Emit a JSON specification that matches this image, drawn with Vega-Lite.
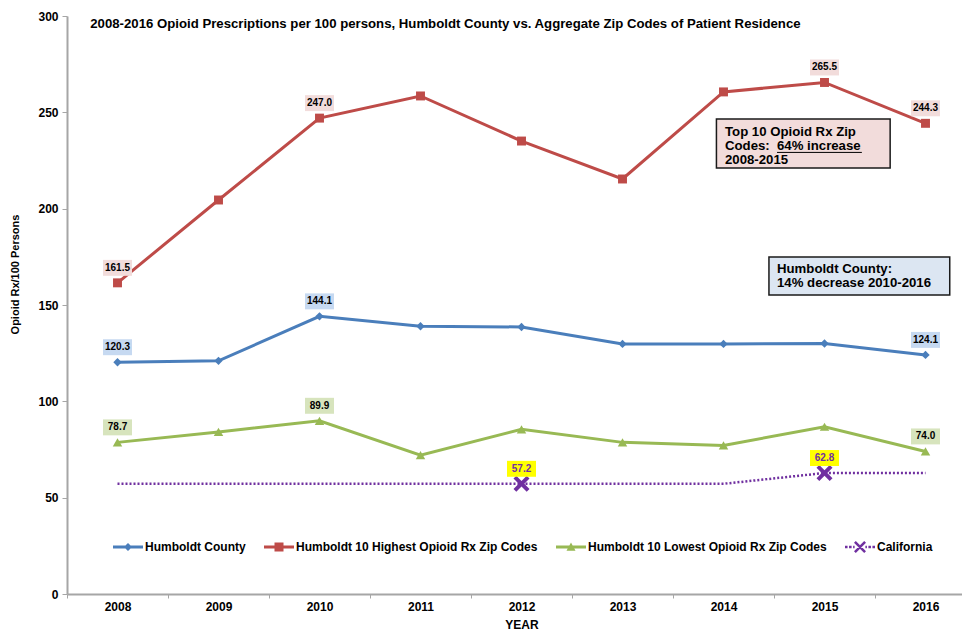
{
  "$schema": "https://vega.github.io/schema/vega-lite/v6.json",
  "width": 895,
  "height": 578,
  "autosize": {"type": "none"},
  "padding": {"left": 67, "top": 16, "right": 0, "bottom": 37},
  "background": "white",
  "config": {
    "view": {"stroke": null},
    "font": "Liberation Sans, Arial, sans-serif",
    "axis": {
      "labelFont": "Liberation Sans, Arial, sans-serif",
      "labelFontSize": 12,
      "labelFontWeight": "bold",
      "labelColor": "#000000",
      "titleFont": "Liberation Sans, Arial, sans-serif",
      "titleFontSize": 12,
      "titleFontWeight": "bold",
      "titleColor": "#000000",
      "domainColor": "#a6a6a6",
      "domainWidth": 2,
      "tickColor": "#a6a6a6",
      "tickWidth": 1,
      "grid": false
    }
  },
  "datasets": {
    "rx": [
      {"year": 2008, "series": "Humboldt County", "value": 120.3, "labeled": true},
      {"year": 2009, "series": "Humboldt County", "value": 121.0, "labeled": false},
      {"year": 2010, "series": "Humboldt County", "value": 144.1, "labeled": true},
      {"year": 2011, "series": "Humboldt County", "value": 139.0, "labeled": false},
      {"year": 2012, "series": "Humboldt County", "value": 138.6, "labeled": false},
      {"year": 2013, "series": "Humboldt County", "value": 129.8, "labeled": false},
      {"year": 2014, "series": "Humboldt County", "value": 129.8, "labeled": false},
      {"year": 2015, "series": "Humboldt County", "value": 130.0, "labeled": false},
      {"year": 2016, "series": "Humboldt County", "value": 124.1, "labeled": true},
      {"year": 2008, "series": "Humboldt 10 Highest Opioid Rx Zip Codes", "value": 161.5, "labeled": true},
      {"year": 2009, "series": "Humboldt 10 Highest Opioid Rx Zip Codes", "value": 204.5, "labeled": false},
      {"year": 2010, "series": "Humboldt 10 Highest Opioid Rx Zip Codes", "value": 247.0, "labeled": true},
      {"year": 2011, "series": "Humboldt 10 Highest Opioid Rx Zip Codes", "value": 258.5, "labeled": false},
      {"year": 2012, "series": "Humboldt 10 Highest Opioid Rx Zip Codes", "value": 235.1, "labeled": false},
      {"year": 2013, "series": "Humboldt 10 Highest Opioid Rx Zip Codes", "value": 215.4, "labeled": false},
      {"year": 2014, "series": "Humboldt 10 Highest Opioid Rx Zip Codes", "value": 260.6, "labeled": false},
      {"year": 2015, "series": "Humboldt 10 Highest Opioid Rx Zip Codes", "value": 265.5, "labeled": true},
      {"year": 2016, "series": "Humboldt 10 Highest Opioid Rx Zip Codes", "value": 244.3, "labeled": true},
      {"year": 2008, "series": "Humboldt 10 Lowest Opioid Rx Zip Codes", "value": 78.7, "labeled": true},
      {"year": 2009, "series": "Humboldt 10 Lowest Opioid Rx Zip Codes", "value": 84.1, "labeled": false},
      {"year": 2010, "series": "Humboldt 10 Lowest Opioid Rx Zip Codes", "value": 89.9, "labeled": true},
      {"year": 2011, "series": "Humboldt 10 Lowest Opioid Rx Zip Codes", "value": 72.1, "labeled": false},
      {"year": 2012, "series": "Humboldt 10 Lowest Opioid Rx Zip Codes", "value": 85.5, "labeled": false},
      {"year": 2013, "series": "Humboldt 10 Lowest Opioid Rx Zip Codes", "value": 78.7, "labeled": false},
      {"year": 2014, "series": "Humboldt 10 Lowest Opioid Rx Zip Codes", "value": 77.1, "labeled": false},
      {"year": 2015, "series": "Humboldt 10 Lowest Opioid Rx Zip Codes", "value": 86.8, "labeled": false},
      {"year": 2016, "series": "Humboldt 10 Lowest Opioid Rx Zip Codes", "value": 74.0, "labeled": true},
      {"year": 2008, "series": "California", "value": 57.2, "labeled": false},
      {"year": 2009, "series": "California", "value": 57.2, "labeled": false},
      {"year": 2010, "series": "California", "value": 57.2, "labeled": false},
      {"year": 2011, "series": "California", "value": 57.2, "labeled": false},
      {"year": 2012, "series": "California", "value": 57.2, "labeled": true},
      {"year": 2013, "series": "California", "value": 57.2, "labeled": false},
      {"year": 2014, "series": "California", "value": 57.2, "labeled": false},
      {"year": 2015, "series": "California", "value": 62.8, "labeled": true},
      {"year": 2016, "series": "California", "value": 62.8, "labeled": false}
    ],
    "boxes": [
      {"note": "top10", "x1": 2013.93, "x2": 2015.65, "y1": 246.5, "y2": 221.1},
      {"note": "county", "x1": 2014.45, "x2": 2016.24, "y1": 174.9, "y2": 155.2}
    ],
    "notes": [
      {"x": 2014.015, "y": 239.8, "text": "Top 10 Opioid Rx Zip"},
      {"x": 2014.015, "y": 232.5, "text": "Codes:\u00a0 64% increase"},
      {"x": 2014.015, "y": 225.3, "text": "2008-2015"},
      {"x": 2014.53, "y": 168.7, "text": "Humboldt County:"},
      {"x": 2014.53, "y": 161.4, "text": "14% decrease 2010-2016"}
    ],
    "underline": [
      {"x": 2014.53, "x2": 2015.37, "y": 229.2}
    ],
    "heading": [
      {"x": 2007.73, "y": 295.8, "text": "2008-2016 Opioid Prescriptions per 100 persons, Humboldt County vs. Aggregate Zip Codes of Patient Residence"}
    ]
  },
  "resolve": {"scale": {"x": "independent"}, "axis": {"x": "independent"}},
  "layer": [
    {
      "data": {"name": "rx"},
      "encoding": {
        "x": {
          "field": "year",
          "type": "ordinal",
          "scale": {"domain": [2008, 2009, 2010, 2011, 2012, 2013, 2014, 2015, 2016], "range": [0, 909], "paddingInner": 0, "paddingOuter": 0},
          "axis": {"title": "YEAR", "labelAngle": 0, "tickBand": "extent", "tickSize": 4, "labelPadding": 3, "titlePadding": 7}
        },
        "y": {
          "field": "value",
          "type": "quantitative",
          "scale": {"domain": [0, 300], "nice": false, "zero": true},
          "axis": {"title": "Opioid Rx/100 Persons", "values": [0, 50, 100, 150, 200, 250, 300], "tickSize": 5, "labelPadding": 4, "titleFontSize": 11, "titleX": -52, "titleY": 258, "titleAlign": "center", "titleBaseline": "middle", "titleAngle": 270}
        }
      },
      "layer": [
        {
          "transform": [{"filter": "datum.series !== 'California'"}],
          "mark": {"type": "line", "strokeWidth": 3},
          "encoding": {
            "stroke": {
              "field": "series",
              "type": "nominal",
              "scale": {"domain": ["Humboldt County", "Humboldt 10 Highest Opioid Rx Zip Codes", "Humboldt 10 Lowest Opioid Rx Zip Codes"], "range": ["#4a7ebb", "#be4b48", "#98b954"]},
              "legend": null
            }
          }
        },
        {
          "transform": [{"filter": "datum.series === 'California'"}],
          "mark": {"type": "line", "strokeWidth": 2.5, "strokeDash": [2, 2], "color": "#7030a0"},
          "encoding": {}
        },
        {
          "transform": [{"filter": "datum.series === 'Humboldt County'"}],
          "mark": {"type": "point", "shape": "diamond", "filled": true, "size": 70, "opacity": 1, "color": "#4a7ebb"}
        },
        {
          "transform": [{"filter": "datum.series === 'Humboldt 10 Highest Opioid Rx Zip Codes'"}],
          "mark": {"type": "point", "shape": "square", "filled": true, "size": 80, "opacity": 1, "color": "#be4b48"}
        },
        {
          "transform": [{"filter": "datum.series === 'Humboldt 10 Lowest Opioid Rx Zip Codes'"}],
          "mark": {"type": "point", "shape": "triangle-up", "filled": true, "size": 90, "opacity": 1, "color": "#98b954"}
        },
        {
          "transform": [{"filter": "datum.series === 'California' && datum.labeled"}],
          "mark": {"type": "point", "shape": "M-1,-0.65L-0.65,-1L0,-0.35L0.65,-1L1,-0.65L0.35,0L1,0.65L0.65,1L0,0.35L-0.65,1L-1,0.65L-0.35,0Z", "filled": true, "size": 256, "opacity": 1, "color": "#7030a0", "strokeWidth": 0}
        },
        {
          "transform": [{"filter": "datum.labeled"}],
          "mark": {"type": "point", "shape": "M-1,-0.55H1V0.55H-1Z", "filled": true, "size": 841, "opacity": 1, "strokeWidth": 0, "yOffset": -15},
          "encoding": {
            "fill": {
              "field": "series",
              "type": "nominal",
              "scale": {"domain": ["California", "Humboldt County", "Humboldt 10 Highest Opioid Rx Zip Codes", "Humboldt 10 Lowest Opioid Rx Zip Codes"], "range": ["#ffff00", "#c6d9f1", "#f2dcdb", "#d7e4bd"]},
              "legend": null
            }
          }
        },
        {
          "transform": [{"filter": "datum.labeled"}],
          "mark": {"type": "text", "font": "Liberation Sans Narrow, Liberation Sans, Arial, sans-serif", "fontSize": 10, "fontWeight": "bold", "baseline": "middle", "align": "center", "yOffset": -15},
          "encoding": {
            "text": {"field": "value", "type": "quantitative", "format": ".1f"},
            "color": {"condition": {"test": "datum.series === 'California'", "value": "#7030a0"}, "value": "#000000"}
          }
        },
        {
          "transform": [{"filter": "false"}],
          "mark": {"type": "point", "filled": true, "opacity": 1, "strokeWidth": 0},
          "encoding": {
            "color": {
              "field": "series",
              "type": "nominal",
              "scale": {"domain": ["Humboldt County", "Humboldt 10 Highest Opioid Rx Zip Codes", "Humboldt 10 Lowest Opioid Rx Zip Codes", "California"], "range": ["#4a7ebb", "#be4b48", "#98b954", "#7030a0"]},
              "legend": {"orient": "none", "legendX": 46, "legendY": 516, "direction": "horizontal", "title": null, "symbolSize": 900, "symbolStrokeWidth": 0, "labelFont": "Liberation Sans, Arial, sans-serif", "labelFontSize": 12, "labelFontWeight": "bold", "labelColor": "#000000", "labelOffset": 2, "labelLimit": 400, "columnPadding": 18, "padding": 0}
            },
            "shape": {
              "field": "series",
              "type": "nominal",
              "scale": {"domain": ["Humboldt County", "Humboldt 10 Highest Opioid Rx Zip Codes", "Humboldt 10 Lowest Opioid Rx Zip Codes", "California"], "range": [
                "M-1,-0.1H1V0.1H-1Z M0,-0.27L0.27,0L0,0.27L-0.27,0Z",
                "M-1,-0.1H1V0.1H-1Z M-0.3,-0.3H0.3V0.3H-0.3Z",
                "M-1,-0.1H1V0.1H-1Z M0,-0.3L0.3,0.25H-0.3Z",
                "M-1,-0.08H-0.83V0.08H-1Z M-0.73,-0.08H-0.56V0.08H-0.73Z M-0.46,-0.08H-0.36V0.08H-0.46Z M0.36,-0.08H0.46V0.08H0.36Z M0.56,-0.08H0.73V0.08H0.56Z M0.83,-0.08H1V0.08H0.83Z M-0.4,-0.28L-0.28,-0.4L0.4,0.28L0.28,0.4Z M0.28,-0.4L0.4,-0.28L-0.28,0.4L-0.4,0.28Z"
              ]},
              "legend": {"orient": "none", "legendX": 46, "legendY": 516, "direction": "horizontal", "title": null, "symbolSize": 900, "symbolStrokeWidth": 0, "labelFont": "Liberation Sans, Arial, sans-serif", "labelFontSize": 12, "labelFontWeight": "bold", "labelColor": "#000000", "labelOffset": 2, "labelLimit": 400, "columnPadding": 18, "padding": 0}
            }
          }
        }
      ]
    },
    {
      "layer": [
        {
          "data": {"name": "boxes"},
          "mark": {"type": "rect", "stroke": "#1a1a1a", "strokeWidth": 1.5},
          "encoding": {
            "x": {"field": "x1", "type": "quantitative", "scale": {"domain": [2007.5, 2016.5], "range": [0, 909], "nice": false, "zero": false}, "axis": null},
            "x2": {"field": "x2"},
            "y": {"field": "y1", "type": "quantitative"},
            "y2": {"field": "y2"},
            "fill": {"condition": {"test": "datum.note === 'top10'", "value": "#f2dcdb"}, "value": "#dce6f2"}
          }
        },
        {
          "data": {"name": "notes"},
          "mark": {"type": "text", "align": "left", "baseline": "middle", "fontSize": 13.2, "fontWeight": "bold", "color": "#000000"},
          "encoding": {
            "x": {"field": "x", "type": "quantitative"},
            "y": {"field": "y", "type": "quantitative"},
            "text": {"field": "text", "type": "nominal"}
          }
        },
        {
          "data": {"name": "underline"},
          "mark": {"type": "rule", "color": "#000000", "strokeWidth": 1},
          "encoding": {
            "x": {"field": "x", "type": "quantitative"},
            "x2": {"field": "x2"},
            "y": {"field": "y", "type": "quantitative"}
          }
        },
        {
          "data": {"name": "heading"},
          "mark": {"type": "text", "align": "left", "baseline": "middle", "fontSize": 13.2, "fontWeight": "bold", "color": "#000000"},
          "encoding": {
            "x": {"field": "x", "type": "quantitative"},
            "y": {"field": "y", "type": "quantitative"},
            "text": {"field": "text", "type": "nominal"}
          }
        }
      ]
    }
  ]
}
